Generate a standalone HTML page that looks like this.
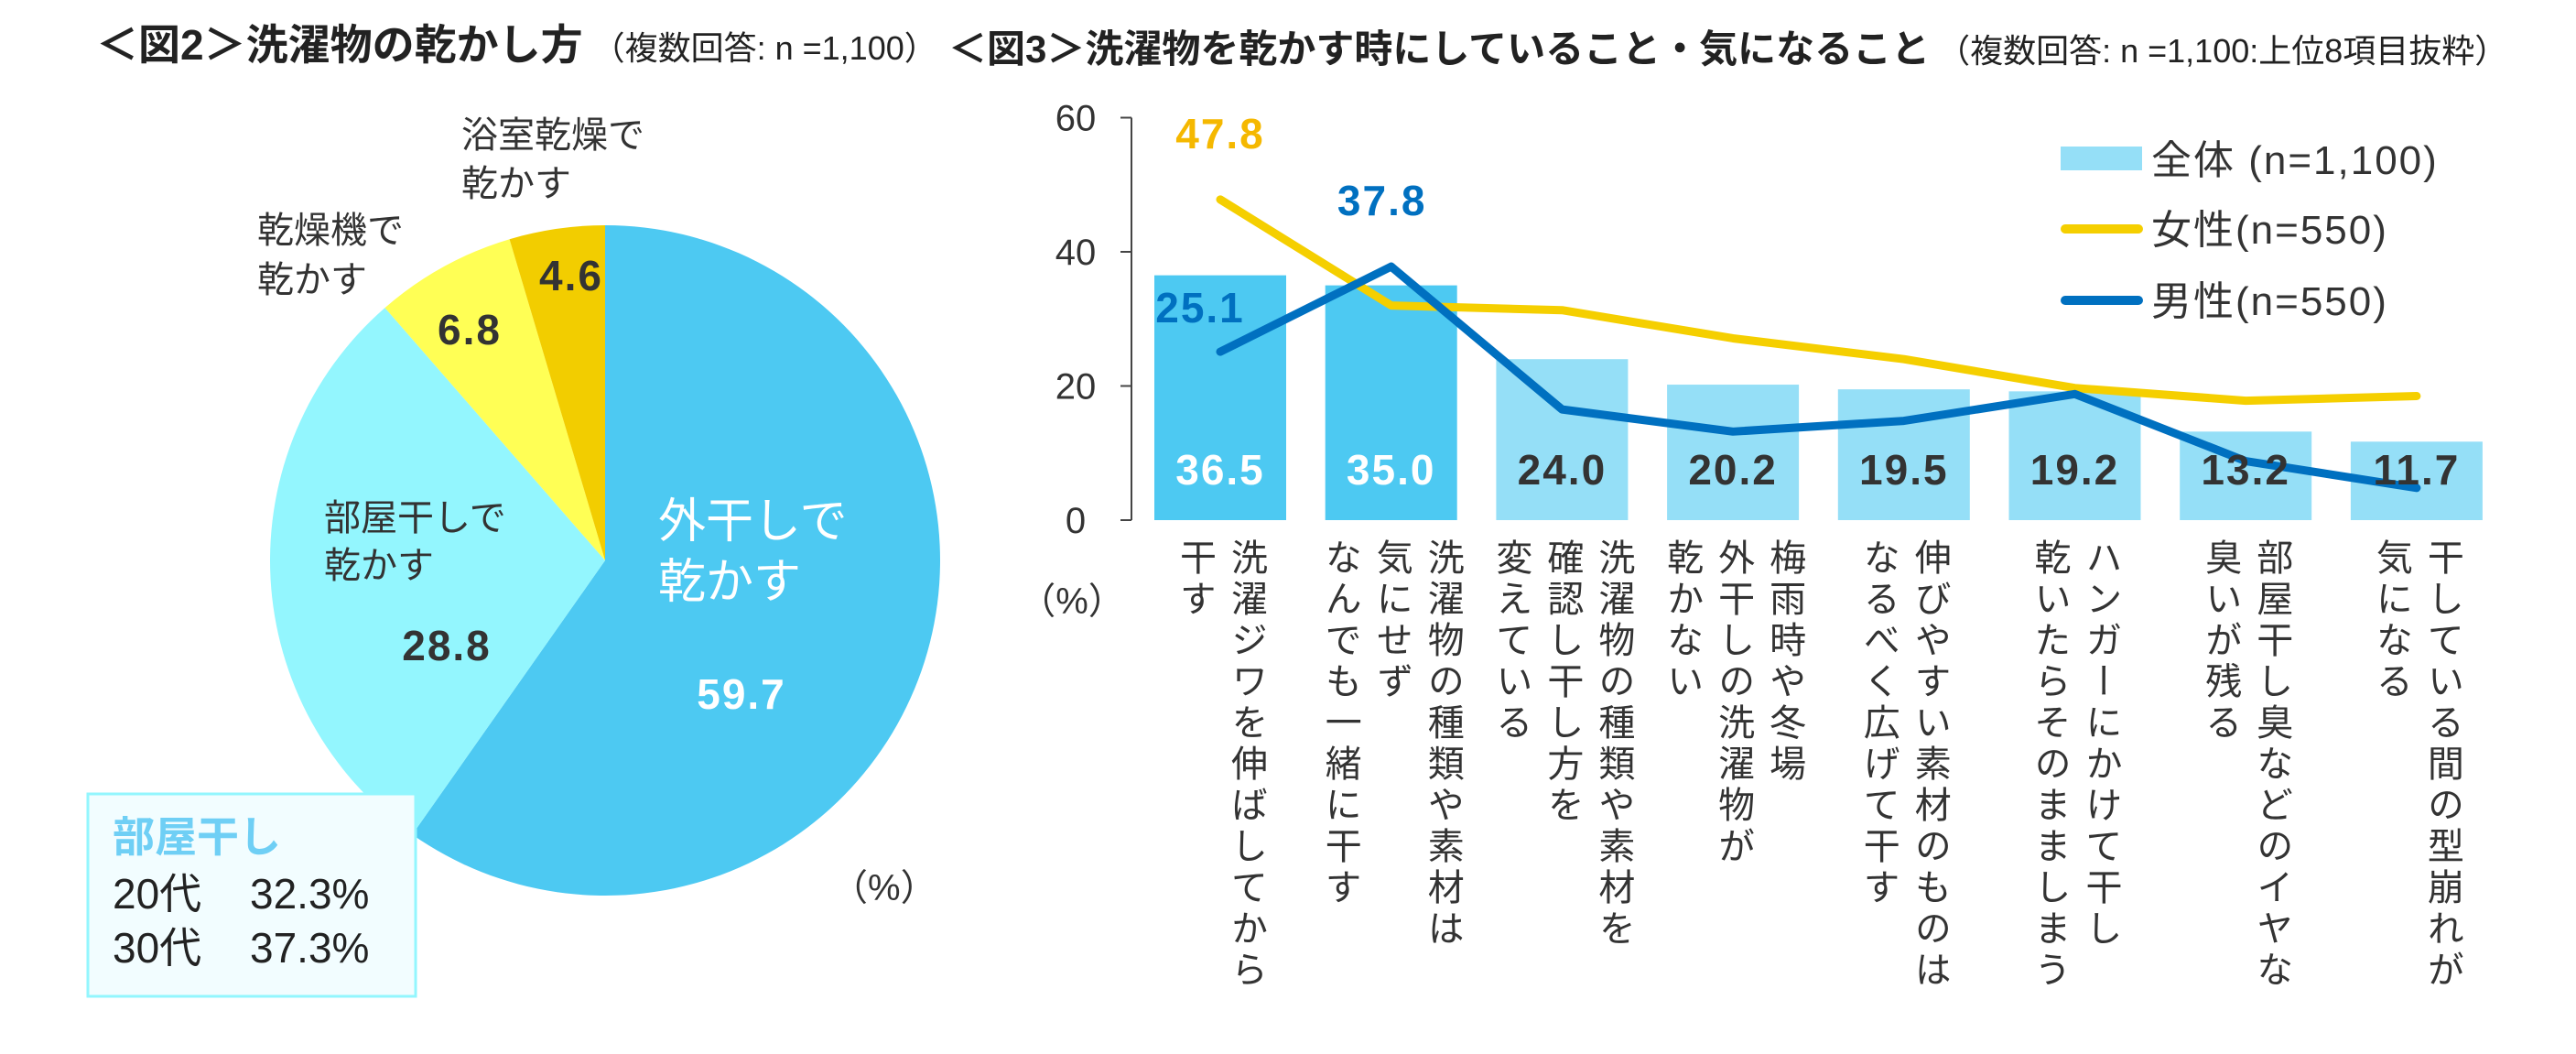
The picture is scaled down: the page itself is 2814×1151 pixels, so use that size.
<!DOCTYPE html>
<html><head><meta charset="utf-8"><style>
html,body{margin:0;padding:0;background:#fff;}
svg{display:block;font-family:"Liberation Sans","Noto Sans CJK JP",sans-serif;}
</style></head><body>
<svg id="s" width="2814" height="1151" viewBox="0 0 2814 1151" xmlns="http://www.w3.org/2000/svg">
<text x="105" y="65" font-size="46" font-weight="bold" fill="#222">＜図2＞洗濯物の乾かし方<tspan font-size="36" font-weight="normal" dx="10">（複数回答: n =1,100）</tspan></text>
<text x="1036" y="68" font-size="42" font-weight="bold" fill="#222">＜図3＞洗濯物を乾かす時にしていること・気になること<tspan font-size="36" font-weight="normal" dx="8">（複数回答: n =1,100:上位8項目抜粋）</tspan></text>
<g id="pie"></g>
<g id="bar"></g>
</svg>
<script>
const pieLabels=["外干しで乾かす","部屋干しで乾かす","乾燥機で乾かす","浴室乾燥で乾かす"];
const pieValues=[59.7,28.8,6.8,4.6];
const categories=["洗濯ジワを伸ばしてから干す","洗濯物の種類や素材は気にせずなんでも一緒に干す","洗濯物の種類や素材を確認し干し方を変えている","梅雨時や冬場外干しの洗濯物が乾かない","伸びやすい素材のものはなるべく広げて干す","ハンガーにかけて干し乾いたらそのまましまう","部屋干し臭などのイヤな臭いが残る","干している間の型崩れが気になる"];
const catCols=[["洗濯ジワを伸ばしてから","干す"],["洗濯物の種類や素材は","気にせず","なんでも一緒に干す"],["洗濯物の種類や素材を","確認し干し方を","変えている"],["梅雨時や冬場","外干しの洗濯物が","乾かない"],["伸びやすい素材のものは","なるべく広げて干す"],["ハンガーにかけて干し","乾いたらそのまましまう"],["部屋干し臭などのイヤな","臭いが残る"],["干している間の型崩れが","気になる"]];
const totalValues=[36.5,35.0,24.0,20.2,19.5,19.2,13.2,11.7];
const femaleValues=[47.8,32.0,31.3,27.1,24.0,19.7,17.8,18.5];
const maleValues=[25.1,37.8,16.5,13.2,14.8,18.8,8.8,4.8];
const yTicks=[0,20,40,60];
const NS="http://www.w3.org/2000/svg";
function el(t,a,p){const e=document.createElementNS(NS,t);for(const k in a)e.setAttribute(k,a[k]);p.appendChild(e);return e;}
const pie=document.getElementById('pie');
const cx=661,cy=612,r=366;const pcol=["#4dc9f2","#93f6fe","#ffff55","#f2cd00"];
const tot=pieValues.reduce((a,b)=>a+b,0);let ang=0;
pieValues.forEach((v,i)=>{const a0=ang,a1=ang+v/tot*2*Math.PI;ang=a1;
const x0=cx+r*Math.sin(a0),y0=cy-r*Math.cos(a0),x1=cx+r*Math.sin(a1),y1=cy-r*Math.cos(a1);
const p=el('path',{d:`M${cx},${cy}L${x0},${y0}A${r},${r} 0 ${a1-a0>Math.PI?1:0} 1 ${x1},${y1}Z`,fill:pcol[i]},pie);

});
function txt(p,x,y,s,attrs,name){const t=el('text',Object.assign({x:x,y:y},attrs),p);t.textContent=s;return t;}
const lab={fill:"#333","font-size":40};
const num={"font-size":46,"font-weight":"bold","text-anchor":"middle","letter-spacing":"2"};
txt(pie,719,587,"外干しで",{fill:"#fff","font-size":52},"slice-label-outdoor");
txt(pie,719,653,"乾かす",{fill:"#fff","font-size":52},"slice-label-outdoor-2");
txt(pie,810,774,pieValues[0].toFixed(1),Object.assign({fill:"#fff"},num),"slice-value-outdoor");
txt(pie,354,579,"部屋干しで",lab,"slice-label-indoor");
txt(pie,354,631,"乾かす",lab,"slice-label-indoor-2");
txt(pie,488,721,pieValues[1].toFixed(1),Object.assign({fill:"#333"},num),"slice-value-indoor");
txt(pie,513,376,pieValues[2].toFixed(1),Object.assign({fill:"#333"},num),"slice-value-dryer");
txt(pie,624,317,pieValues[3].toFixed(1),Object.assign({fill:"#333"},num),"slice-value-bathroom");
txt(pie,281,265,"乾燥機で",lab,"slice-label-dryer");
txt(pie,281,319,"乾かす",lab,"slice-label-dryer-2");
txt(pie,504,161,"浴室乾燥で",lab,"slice-label-bathroom");
txt(pie,504,214,"乾かす",lab,"slice-label-bathroom-2");
const box=el('rect',{x:96,y:867,width:358,height:221,fill:"#f2fdff",stroke:"#93f6fe","stroke-width":3},pie);

txt(pie,123,930,"部屋干し",{fill:"#6fcff5","font-size":46,"font-weight":"bold"},"note-title");
const n1=txt(pie,123,992,"20代",{fill:"#222","font-size":46},"note-20s");
const s1=el('tspan',{x:273},n1);s1.textContent="32.3%";
const n2=txt(pie,123,1051,"30代",{fill:"#222","font-size":46},"note-30s");
const s2=el('tspan',{x:273},n2);s2.textContent="37.3%";
txt(pie,908,983,"（%）",{fill:"#333","font-size":40},"pie-unit");
const g=document.getElementById('bar');
const y0=568,y60=128.5,ax=1236,x0=1333,step=186.7,bw=144;
const Y=v=>y0-(v/60)*(y0-y60);const X=i=>x0+i*step;
const axl=el('line',{x1:ax,y1:y60,x2:ax,y2:y0,stroke:"#444","stroke-width":2},g);

yTicks.forEach(t=>{const l=el('line',{x1:ax-12,y1:Y(t),x2:ax,y2:Y(t),stroke:"#444","stroke-width":2},g);

txt(g,1175,Y(t)+14,String(t),{fill:"#333","font-size":40,"text-anchor":"middle"},"y-tick-label");});
totalValues.forEach((v,i)=>{const b=el('rect',{x:X(i)-bw/2,y:Y(v),width:bw,height:y0-Y(v),fill:i<2?"#4dc9f2":"#95dff7"},g);
});
function line(vals,col,name){const pl=el('polyline',{points:vals.map((v,i)=>X(i)+','+Y(v)).join(' '),fill:"none",stroke:col,"stroke-width":9,"stroke-linejoin":"round","stroke-linecap":"round"},g);
}
line(femaleValues,"#f5cf00","female-line");
line(maleValues,"#0070c0","male-line");
totalValues.forEach((v,i)=>txt(g,X(i),529,v.toFixed(1),Object.assign({fill:i<2?"#fff":"#333"},num),"bar-value-"+(i+1)));
txt(g,X(0),162,femaleValues[0].toFixed(1),Object.assign({fill:"#f5b800"},num),"female-max-label");
txt(g,X(1)-10,235,maleValues[1].toFixed(1),Object.assign({fill:"#0070c0"},num),"male-max-label");
txt(g,X(0)-22,352,maleValues[0].toFixed(1),Object.assign({fill:"#0070c0"},num),"male-first-label");
const lr=el('rect',{x:2251,y:160,width:89,height:26,fill:"#95dff7"},g);
txt(g,2350,190,"全体 (n=1,100)",{fill:"#333","font-size":44,"letter-spacing":"2"},"legend-total");
const l1=el('line',{x1:2256,y1:250,x2:2336,y2:250,stroke:"#f5cf00","stroke-width":10,"stroke-linecap":"round"},g);
txt(g,2350,266,"女性(n=550)",{fill:"#333","font-size":44,"letter-spacing":"2"},"legend-female");
const l2=el('line',{x1:2256,y1:328,x2:2336,y2:328,stroke:"#0070c0","stroke-width":10,"stroke-linecap":"round"},g);
txt(g,2350,344,"男性(n=550)",{fill:"#333","font-size":44,"letter-spacing":"2"},"legend-male");
txt(g,1171,670,"（%）",{fill:"#333","font-size":40,"text-anchor":"middle"},"bar-unit");
catCols.forEach((cols,i)=>{const n=cols.length,pitch=56;
cols.forEach((c,j)=>{const cxp=X(i)+((n-1)/2-j)*pitch;
const t=el('text',{x:cxp,y:588,"font-size":40,fill:"#333","writing-mode":"vertical-rl","letter-spacing":"5"},g);
t.textContent=c;

});});
</script>
</body></html>
